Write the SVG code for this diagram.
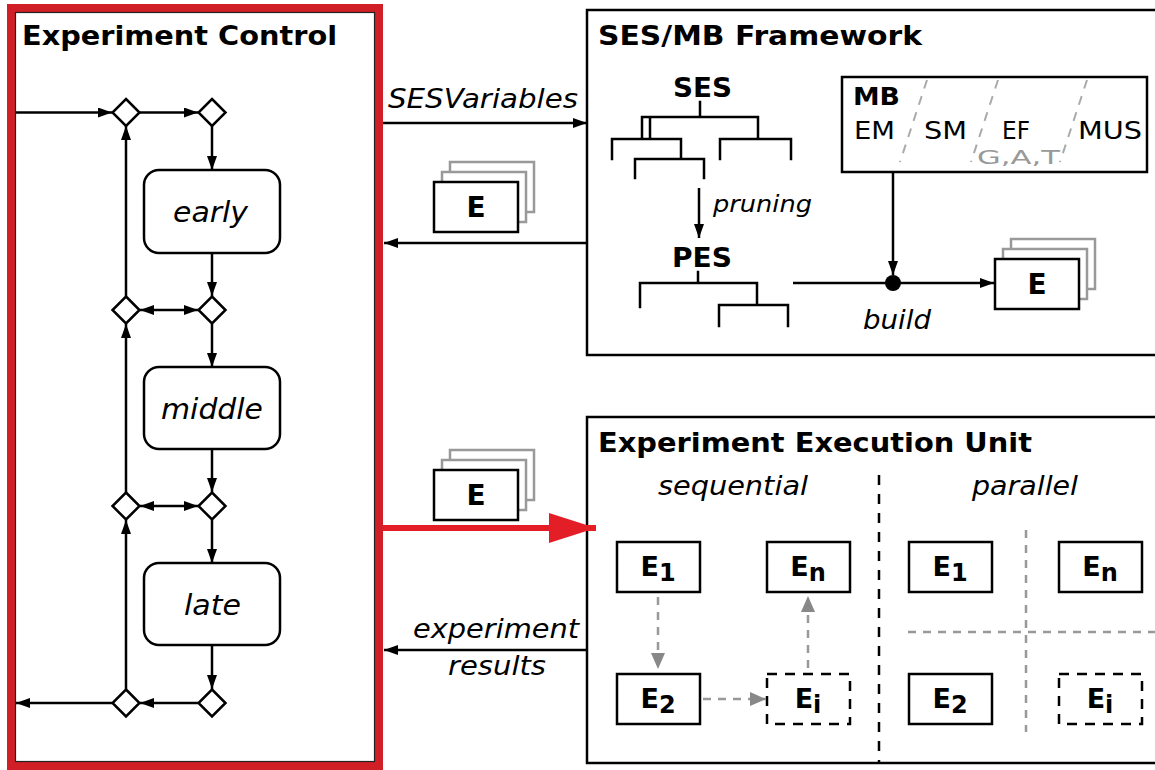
<svg xmlns="http://www.w3.org/2000/svg" width="1155" height="770" viewBox="0 0 1155 770">
  <style>
    .title { font-family: "DejaVu Sans", Verdana, sans-serif; font-weight: bold; font-size: 27px; fill: #000; }
    .bold { font-family: "DejaVu Sans", Verdana, sans-serif; font-weight: bold; fill: #000; }
    .reg { font-family: "DejaVu Sans", Verdana, sans-serif; fill: #000; }
    .ital { font-family: "DejaVu Sans", Verdana, sans-serif; font-style: italic; fill: #000; }
    .ln { stroke: #000; stroke-width: 2.5; fill: none; }
    .box { stroke: #000; stroke-width: 2.5; fill: #fff; }
    .dbox { stroke: #000; stroke-width: 2.5; fill: #fff; stroke-dasharray: 10 8; }
    .back { stroke: #999; stroke-width: 2.5; fill: #fff; }
    .dia { stroke: #000; stroke-width: 2.5; fill: #fff; }
    .gdash { stroke: #999; stroke-width: 2.5; fill: none; stroke-dasharray: 8 7; }
    .gslash { stroke: #aaa; stroke-width: 2; fill: none; stroke-dasharray: 9 8; }
    .tree { stroke: #000; stroke-width: 2.5; fill: none; stroke-linecap: square; }
  </style>
  <defs>
    <marker id="ah" markerUnits="userSpaceOnUse" markerWidth="14" markerHeight="10" refX="14" refY="5" orient="auto-start-reverse">
      <path d="M0,0 L14,5 L0,10 z" fill="#000"/>
    </marker>
    <marker id="ahg" markerUnits="userSpaceOnUse" markerWidth="16" markerHeight="14" refX="16" refY="7" orient="auto">
      <path d="M0,0 L16,7 L0,14 z" fill="#888"/>
    </marker>
    <marker id="ahr" markerUnits="userSpaceOnUse" markerWidth="48" markerHeight="32" refX="47" refY="16" orient="auto">
      <path d="M0,1 L47,16 L0,31 z" fill="#e41e26"/>
    </marker>
    <path id="diamond" d="M0,-13.5 L13.5,0 L0,13.5 L-13.5,0 z"/>
    <g id="stack">
      <rect x="16" y="-20" width="84" height="50" class="back"/>
      <rect x="8" y="-10" width="84" height="50" class="back"/>
      <rect x="0" y="0" width="84" height="50" class="box"/>
      <text x="42" y="35" class="bold" font-size="28" text-anchor="middle">E</text>
    </g>
  </defs>

  <rect width="1155" height="770" fill="#fff"/>

  <!-- Experiment Control panel -->
  <g id="experiment-control">
    <rect x="11" y="8" width="368" height="758" fill="#fff" stroke="#d11f27" stroke-width="8"/>
    <rect x="15.5" y="12.5" width="359" height="749" fill="none" stroke="#222" stroke-width="1.2"/>
    <text x="22" y="45" class="title" textLength="315" lengthAdjust="spacingAndGlyphs">Experiment Control</text>
  </g>

  <g id="phase-early">
    <rect x="144" y="170" width="136" height="83" rx="15" class="box"/>
    <text x="173" y="222" class="ital" font-size="28" textLength="75" lengthAdjust="spacingAndGlyphs">early</text>
  </g>
  <g id="phase-middle">
    <rect x="144" y="367" width="136" height="82" rx="15" class="box"/>
    <text x="161" y="419" class="ital" font-size="28" textLength="102" lengthAdjust="spacingAndGlyphs">middle</text>
  </g>
  <g id="phase-late">
    <rect x="144" y="563" width="136" height="82" rx="15" class="box"/>
    <text x="184" y="615" class="ital" font-size="28" textLength="57" lengthAdjust="spacingAndGlyphs">late</text>
  </g>

  <g id="gates">
    <use href="#diamond" x="126" y="112.5" class="dia"/>
    <use href="#diamond" x="212" y="112.5" class="dia"/>
    <use href="#diamond" x="126" y="310" class="dia"/>
    <use href="#diamond" x="212" y="310" class="dia"/>
    <use href="#diamond" x="126" y="506" class="dia"/>
    <use href="#diamond" x="212" y="506" class="dia"/>
    <use href="#diamond" x="126" y="703" class="dia"/>
    <use href="#diamond" x="212" y="703" class="dia"/>
  </g>

  <!-- SES/MB Framework panel -->
  <g id="ses-mb-framework">
    <rect x="587" y="10" width="600" height="345" class="box"/>
    <text x="598" y="45" class="title" textLength="324" lengthAdjust="spacingAndGlyphs">SES/MB Framework</text>
    <text x="673" y="97" class="bold" font-size="26" textLength="59" lengthAdjust="spacingAndGlyphs">SES</text>
    <path class="tree" d="M700,102 V117 M642,117 H758 M642,117 V139 M650,117 V139 M758,117 V139
      M612,139 H681 M612,139 V159 M681,139 V159 M635,159 H704 M635,159 V178 M704,159 V178
      M720,139 H791 M720,139 V159 M791,139 V159"/>
    <text x="713" y="212" class="ital" font-size="23" textLength="99" lengthAdjust="spacingAndGlyphs">pruning</text>
    <text x="672" y="267" class="bold" font-size="26" textLength="60" lengthAdjust="spacingAndGlyphs">PES</text>
    <path class="tree" d="M698,272 V283 M640,283 H757 M640,283 V307 M757,283 V305 M719,305 H788 M719,305 V326 M788,305 V326"/>
    <text x="863" y="329" class="ital" font-size="26" textLength="68" lengthAdjust="spacingAndGlyphs">build</text>
  </g>

  <g id="mb">
    <rect x="842" y="77" width="305" height="95" class="box"/>
    <path class="gslash" d="M927,80 L900,162 M998,80 L971,162 M1087,80 L1060,162"/>
    <text x="853" y="105" class="bold" font-size="24" textLength="47" lengthAdjust="spacingAndGlyphs">MB</text>
    <text x="854" y="139" class="reg" font-size="24" textLength="41" lengthAdjust="spacingAndGlyphs">EM</text>
    <text x="924" y="139" class="reg" font-size="24" textLength="43" lengthAdjust="spacingAndGlyphs">SM</text>
    <text x="1002" y="139" class="reg" font-size="24" textLength="28" lengthAdjust="spacingAndGlyphs">EF</text>
    <text x="1078" y="139" class="reg" font-size="24" textLength="64" lengthAdjust="spacingAndGlyphs">MUS</text>
    <text x="977" y="164" class="reg" font-size="20" style="fill:#999" textLength="83" lengthAdjust="spacingAndGlyphs">G,A,T</text>
  </g>

  <g id="experiments-built">
    <use href="#stack" x="995" y="259"/>
  </g>

  <!-- Experiment Execution Unit panel -->
  <g id="experiment-execution-unit">
    <rect x="587" y="417" width="600" height="346" class="box"/>
    <text x="598" y="452" class="title" textLength="434" lengthAdjust="spacingAndGlyphs">Experiment Execution Unit</text>
    <text x="658" y="495" class="ital" font-size="26" textLength="150" lengthAdjust="spacingAndGlyphs">sequential</text>
    <text x="972" y="495" class="ital" font-size="26" textLength="106" lengthAdjust="spacingAndGlyphs">parallel</text>
    <line x1="879" y1="475" x2="879" y2="763" class="ln" stroke-dasharray="10 9"/>
    <line x1="1026" y1="530" x2="1026" y2="732" class="gdash"/>
    <line x1="908" y1="632" x2="1160" y2="632" class="gdash"/>
  </g>

  <g id="seq-e1">
    <rect x="617" y="542" width="83" height="50" class="box"/>
    <text x="658" y="576" class="bold" font-size="27" text-anchor="middle">E<tspan font-size="24" dy="5">1</tspan></text>
  </g>
  <g id="seq-en">
    <rect x="767" y="542" width="83" height="50" class="box"/>
    <text x="808" y="576" class="bold" font-size="27" text-anchor="middle">E<tspan font-size="24" dy="5">n</tspan></text>
  </g>
  <g id="seq-e2">
    <rect x="617" y="674" width="83" height="50" class="box"/>
    <text x="658" y="708" class="bold" font-size="27" text-anchor="middle">E<tspan font-size="24" dy="5">2</tspan></text>
  </g>
  <g id="seq-ei">
    <rect x="767" y="674" width="83" height="50" class="dbox"/>
    <text x="808" y="708" class="bold" font-size="27" text-anchor="middle">E<tspan font-size="24" dy="5">i</tspan></text>
  </g>
  <g id="par-e1">
    <rect x="909" y="542" width="83" height="50" class="box"/>
    <text x="950" y="576" class="bold" font-size="27" text-anchor="middle">E<tspan font-size="24" dy="5">1</tspan></text>
  </g>
  <g id="par-en">
    <rect x="1059" y="542" width="83" height="50" class="box"/>
    <text x="1100" y="576" class="bold" font-size="27" text-anchor="middle">E<tspan font-size="24" dy="5">n</tspan></text>
  </g>
  <g id="par-e2">
    <rect x="909" y="674" width="83" height="50" class="box"/>
    <text x="950" y="708" class="bold" font-size="27" text-anchor="middle">E<tspan font-size="24" dy="5">2</tspan></text>
  </g>
  <g id="par-ei">
    <rect x="1059" y="674" width="83" height="50" class="dbox"/>
    <text x="1100" y="708" class="bold" font-size="27" text-anchor="middle">E<tspan font-size="24" dy="5">i</tspan></text>
  </g>

  <!-- Experiment sets passed between panels -->
  <g id="experiments-returned">
    <use href="#stack" x="434" y="182"/>
  </g>
  <g id="experiments-sent">
    <use href="#stack" x="434" y="470"/>
  </g>

  <!-- Connectors -->
  <g id="connectors">
    <!-- control flow -->
    <line x1="16" y1="112.5" x2="112" y2="112.5" class="ln" marker-end="url(#ah)"/>
    <line x1="140" y1="112.5" x2="198" y2="112.5" class="ln" marker-end="url(#ah)"/>
    <line x1="212" y1="126" x2="212" y2="170" class="ln" marker-end="url(#ah)"/>
    <line x1="212" y1="253" x2="212" y2="296" class="ln" marker-end="url(#ah)"/>
    <line x1="212" y1="324" x2="212" y2="367" class="ln" marker-end="url(#ah)"/>
    <line x1="212" y1="449" x2="212" y2="492" class="ln" marker-end="url(#ah)"/>
    <line x1="212" y1="520" x2="212" y2="563" class="ln" marker-end="url(#ah)"/>
    <line x1="212" y1="645" x2="212" y2="689" class="ln" marker-end="url(#ah)"/>
    <line x1="198" y1="703" x2="140" y2="703" class="ln" marker-end="url(#ah)"/>
    <line x1="112" y1="703" x2="16" y2="703" class="ln" marker-end="url(#ah)"/>
    <line x1="126" y1="296" x2="126" y2="126" class="ln" marker-end="url(#ah)"/>
    <line x1="126" y1="492" x2="126" y2="324" class="ln" marker-end="url(#ah)"/>
    <line x1="126" y1="689" x2="126" y2="520" class="ln" marker-end="url(#ah)"/>
    <line x1="140" y1="310" x2="198" y2="310" class="ln" marker-start="url(#ah)" marker-end="url(#ah)"/>
    <line x1="140" y1="506" x2="198" y2="506" class="ln" marker-start="url(#ah)" marker-end="url(#ah)"/>

    <!-- between panels -->
    <line x1="383" y1="123" x2="587" y2="123" class="ln" marker-end="url(#ah)"/>
    <text x="388" y="108" class="ital" font-size="26" textLength="190" lengthAdjust="spacingAndGlyphs">SESVariables</text>
    <line x1="587" y1="243" x2="384" y2="243" class="ln" marker-end="url(#ah)"/>
    <line x1="383" y1="528" x2="596" y2="528" stroke="#e41e26" stroke-width="6" marker-end="url(#ahr)"/>
    <line x1="587" y1="650" x2="384" y2="650" class="ln" marker-end="url(#ah)"/>
    <text x="413" y="638" class="ital" font-size="26" textLength="166" lengthAdjust="spacingAndGlyphs">experiment</text>
    <text x="448" y="675" class="ital" font-size="26" textLength="98" lengthAdjust="spacingAndGlyphs">results</text>

    <!-- SES/MB internals -->
    <line x1="699" y1="188" x2="699" y2="238" class="ln" marker-end="url(#ah)"/>
    <line x1="893" y1="172" x2="893" y2="275" class="ln" marker-end="url(#ah)"/>
    <line x1="793" y1="283" x2="994" y2="283" class="ln" marker-end="url(#ah)"/>
    <circle cx="893" cy="283" r="8" fill="#000"/>

    <!-- sequential order -->
    <line x1="658" y1="597" x2="658" y2="669" class="gdash" marker-end="url(#ahg)"/>
    <line x1="703" y1="699" x2="766" y2="699" class="gdash" marker-end="url(#ahg)"/>
    <line x1="808" y1="668" x2="808" y2="596" class="gdash" marker-end="url(#ahg)"/>
  </g>
</svg>
